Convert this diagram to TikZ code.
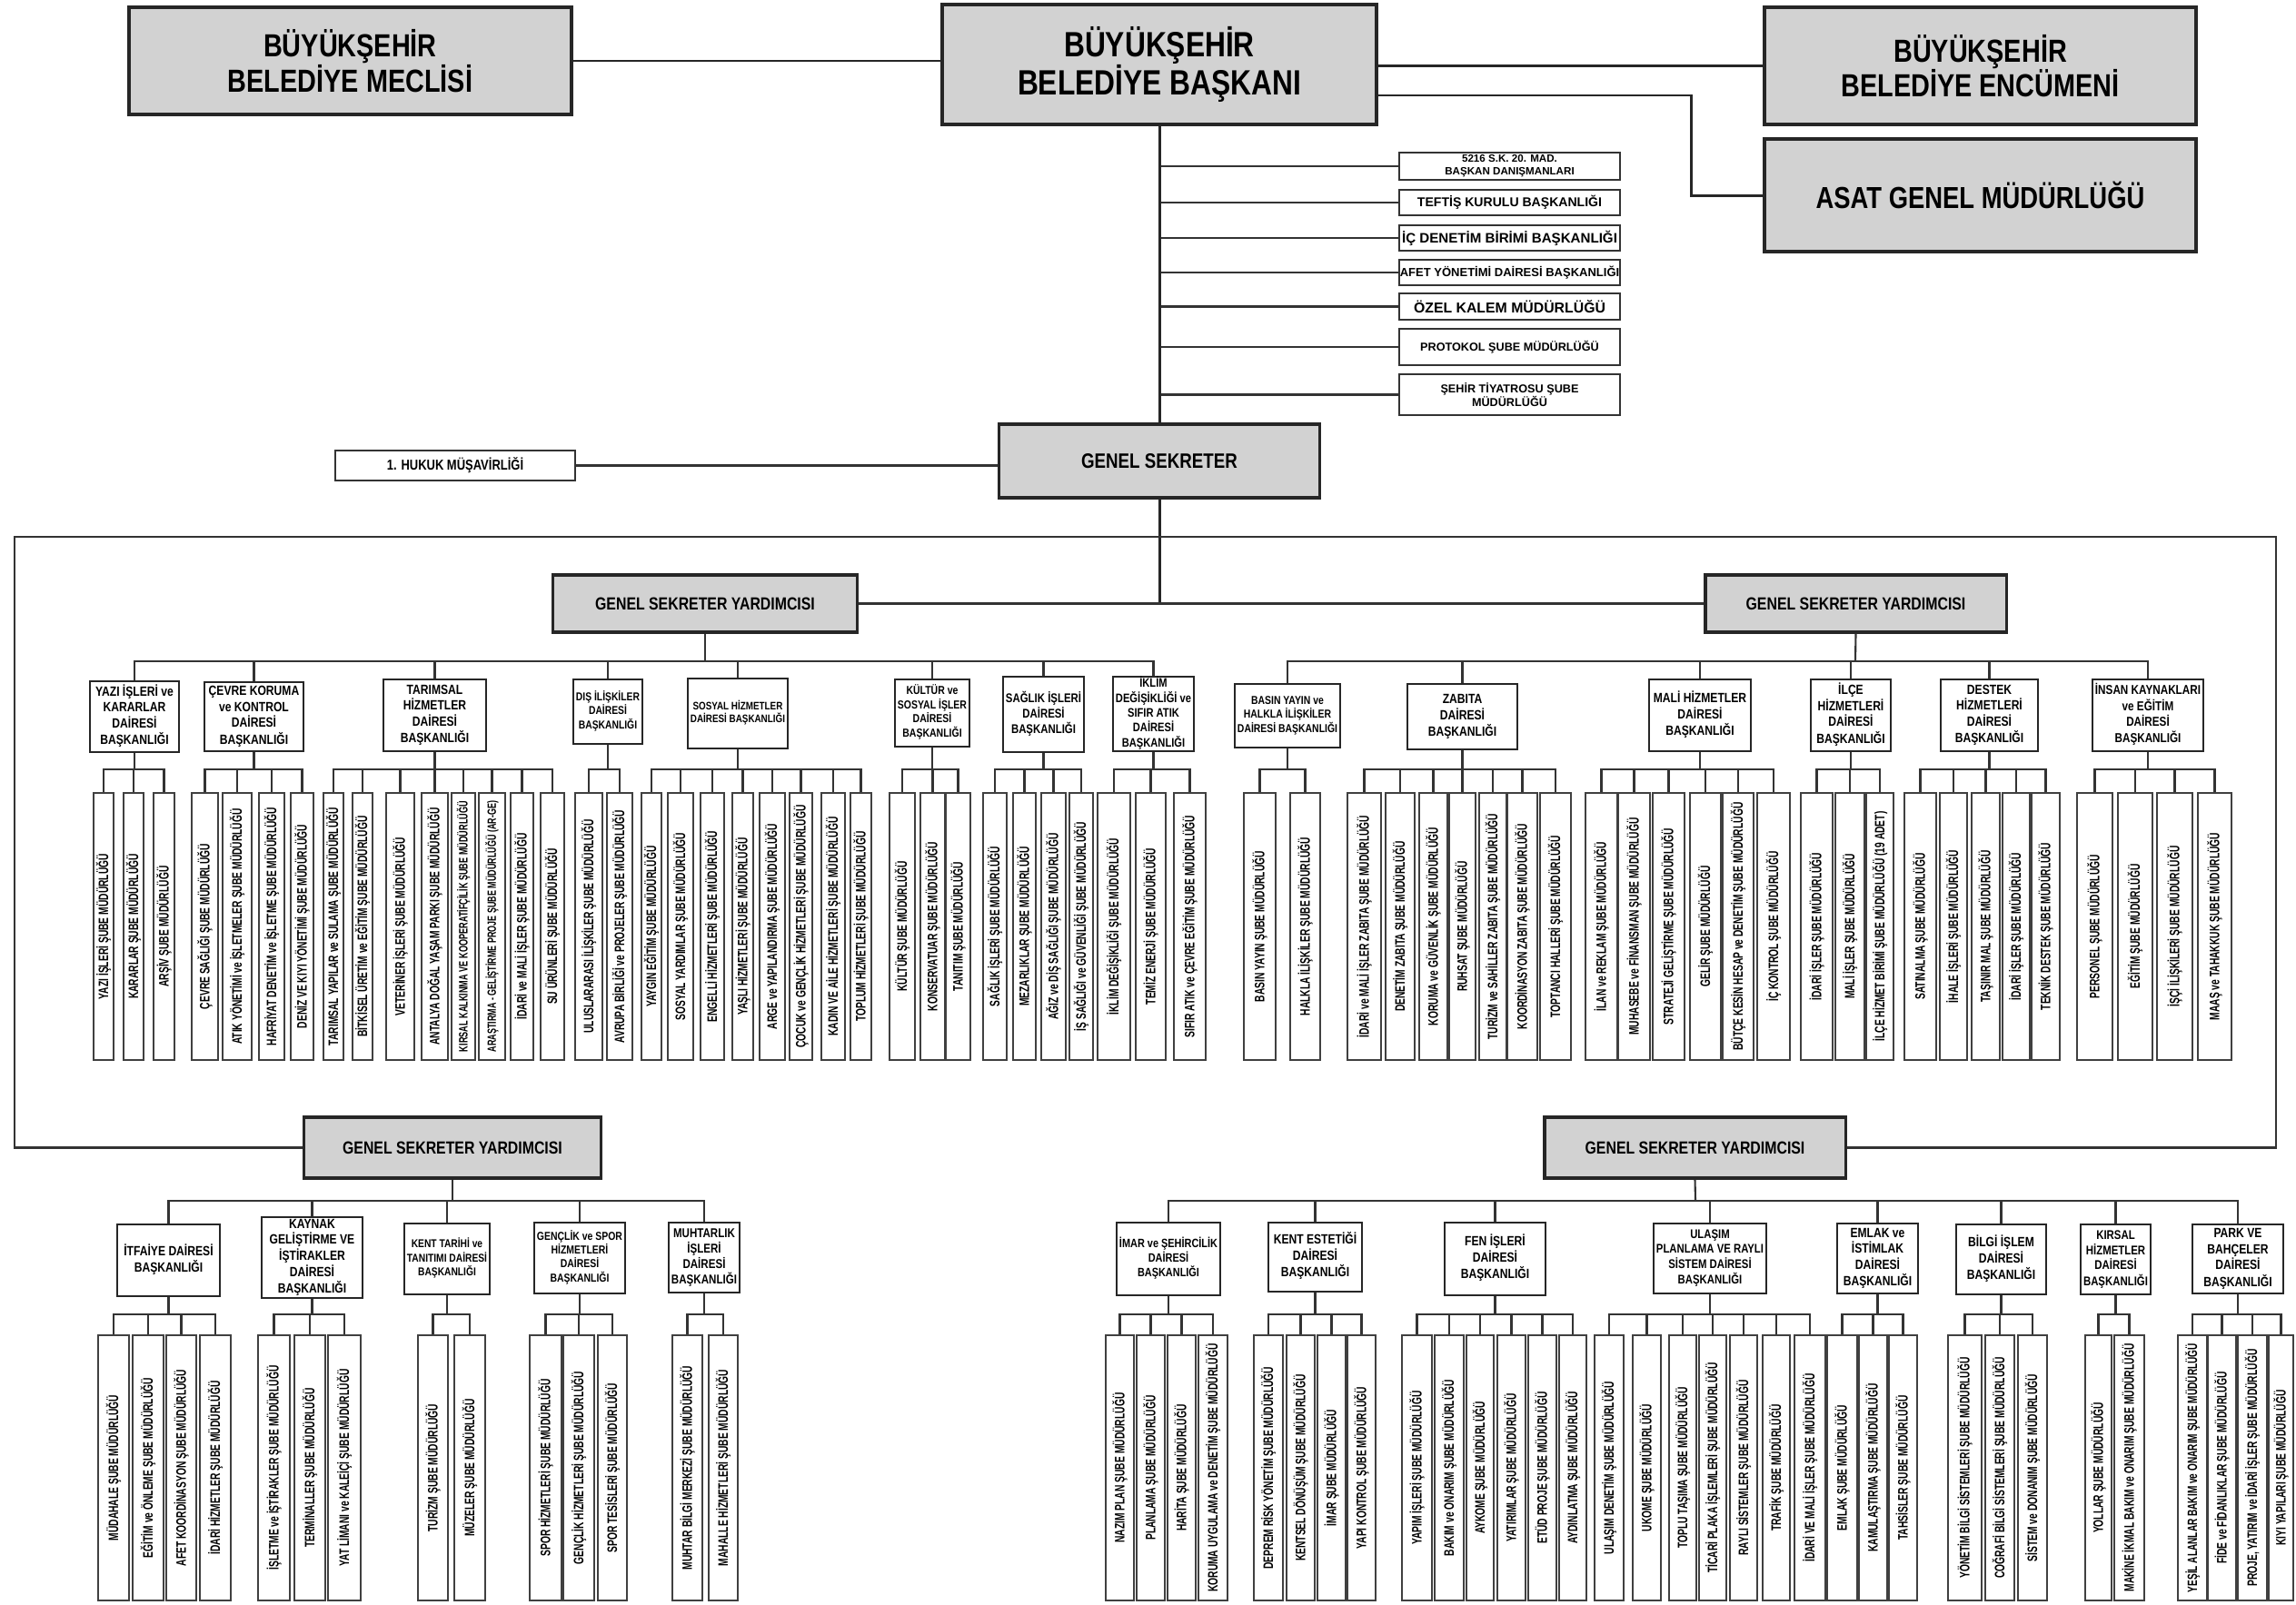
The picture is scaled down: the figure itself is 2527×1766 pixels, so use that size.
\documentclass[tikz,border=0pt]{standalone}
\usepackage{fontspec}
\usepackage{graphicx}
\setmainfont{Liberation Sans}
\newfontfamily\cnd[FakeStretch=0.82]{Liberation Sans}
\newfontfamily\cndk[FakeStretch=0.68]{Liberation Sans}
\definecolor{boxgray}{RGB}{210,210,210}
\newsavebox\fbx
\newcommand\fitw[2]{\sbox\fbx{#2}\ifdim\wd\fbx>#1\relax\resizebox{#1}{!}{\usebox\fbx}\else\usebox\fbx\fi}
\newcommand\ml[1]{\begin{tabular}{@{}c@{}}#1\end{tabular}}
% generic box: style, name, left, right, top, bottom, text  (pixel coordinates)
\newcommand\bx[7]{%
  \pgfmathsetmacro\bw{(#4-#3)*0.284528}%
  \pgfmathsetmacro\bh{(#6-#5)*0.284528}%
  \node[#1, minimum width=\bw pt, minimum height=\bh pt] (#2) at ({(#3+#4)/2},{(#5+#6)/2}) {#7};}
% department with its branch offices: name, left, right, top, bottom, header, list of left/right/text
\newcommand\dept[7]{%
  \pgfmathsetmacro\mw{(#3-#2-6)*0.284528}%
  \bx{dept}{#1}{#2}{#3}{#4}{#5}{\fitw{\mw pt}{\ml{#6}}}%
  \draw[conn] (\pb) -| (#1.north);
  \coordinate (#1-b) at ({(#2+#3)/2},\ky);
  \draw[conn] (#1.south) -- (#1-b);
  \foreach \xa/\xb/\txt [count=\i] in {#7} {%
    \pgfmathsetmacro\kw{(\xb-\xa)*0.284528}%
    \node[kid, minimum width=\kw pt, minimum height=\kh pt] (#1-\i) at ({(\xa+\xb)/2},{(\kt+\kb)/2}) {\rotatebox{90}{\fitw{\kl pt}{\txt}}};
    \draw[conn] (#1-b) -| (#1-\i.north);
  }}
\begin{document}
\begin{tikzpicture}[x=0.01cm,y=-0.01cm,
  topbox/.style={draw=black!85, line width=1pt, fill=boxgray, inner sep=0pt, align=center, font={\cnd\bfseries\fontsize{10}{11}\selectfont}},
  graybox/.style={draw=black!85, line width=0.9pt, fill=boxgray, inner sep=0pt, align=center, font={\cnd\bfseries\fontsize{5.5}{6.5}\selectfont}},
  sbox/.style={draw=black!80, line width=0.6pt, fill=white, inner sep=0pt, align=center, font={\bfseries\fontsize{4}{4.6}\selectfont}},
  dept/.style={draw=black!85, line width=0.7pt, fill=white, inner sep=0pt, font={\cnd\bfseries\fontsize{4.2}{4.9}\selectfont}},
  kid/.style={draw=black!75, line width=0.5pt, fill=white, inner sep=0pt, font={\cndk\bfseries\fontsize{4.3}{5}\selectfont}},
  conn/.style={draw=black!80, line width=0.6pt},
  mainconn/.style={draw=black!85, line width=0.85pt}]
\useasboundingbox (0,0) rectangle (2527,1766);
\fill[white] (0,0) rectangle (2527,1766);

% ---------- top level ----------
\bx{topbox}{meclis}{142}{629}{8}{126}{BÜYÜKŞEHİR\\BELEDİYE MECLİSİ}
\bx{topbox,font={\cnd\bfseries\fontsize{11}{12}\selectfont}}{baskan}{1037}{1515}{5}{137}{BÜYÜKŞEHİR\\BELEDİYE BAŞKANI}
\bx{topbox}{encumen}{1942}{2417}{8}{137}{BÜYÜKŞEHİR\\BELEDİYE ENCÜMENİ}
\bx{topbox,font={\cnd\bfseries\fontsize{9.5}{10.5}\selectfont}}{asat}{1942}{2417}{153}{277}{ASAT GENEL MÜDÜRLÜĞÜ}
\draw[mainconn] (meclis.east) -- (meclis.east -| baskan.west);
\draw[mainconn] (encumen.west -| baskan.east) -- (encumen.west);
\coordinate (asatknee) at (1861,105);
\draw[mainconn] (baskan.east |- asatknee) -- (asatknee) |- (asat.west);

% ---------- offices attached to the mayor ----------
\bx{sbox,font={\bfseries\fontsize{3.3}{3.9}\selectfont}}{sb1}{1540}{1783}{168}{198}{5216 S.K. 20. MAD.\\BAŞKAN DANIŞMANLARI}
\bx{sbox}{sb2}{1540}{1783}{209}{237}{TEFTİŞ KURULU BAŞKANLIĞI}
\bx{sbox,font={\bfseries\fontsize{4.3}{5}\selectfont}}{sb3}{1540}{1783}{248}{276}{İÇ DENETİM BİRİMİ BAŞKANLIĞI}
\bx{sbox,font={\bfseries\fontsize{3.7}{4.3}\selectfont}}{sb4}{1540}{1783}{286}{314}{AFET YÖNETİMİ DAİRESİ BAŞKANLIĞI}
\bx{sbox,font={\bfseries\fontsize{4.5}{5.2}\selectfont}}{sb5}{1540}{1783}{323}{352}{ÖZEL KALEM MÜDÜRLÜĞÜ}
\bx{sbox,font={\bfseries\fontsize{3.6}{4.2}\selectfont}}{sb6}{1540}{1783}{362}{402}{PROTOKOL ŞUBE MÜDÜRLÜĞÜ}
\bx{sbox,font={\bfseries\fontsize{3.6}{4.4}\selectfont}}{sb7}{1540}{1783}{412}{457}{ŞEHİR TİYATROSU ŞUBE\\MÜDÜRLÜĞÜ}
\foreach \s in {sb1,sb2,sb3,sb4,sb5,sb6,sb7} {\draw[conn] (\s.west -| baskan.south) -- (\s.west);}

% ---------- general secretary ----------
\bx{graybox,font={\cnd\bfseries\fontsize{6.5}{7.5}\selectfont}}{gs}{1100}{1452}{467}{548}{GENEL SEKRETER}
\bx{sbox,font={\cnd\bfseries\fontsize{4.5}{5}\selectfont}}{hukuk}{369}{633}{496}{529}{1. HUKUK MÜŞAVİRLİĞİ}
\draw[mainconn] (baskan.south) -- (gs.north);
\draw[conn] (hukuk.east) -- (hukuk.east -| gs.west);
\bx{graybox}{gsyL}{609}{943}{633}{696}{GENEL SEKRETER YARDIMCISI}
\bx{graybox}{gsyR}{1877}{2208}{633}{696}{GENEL SEKRETER YARDIMCISI}
\bx{graybox}{gsyLL}{335}{661}{1230}{1297}{GENEL SEKRETER YARDIMCISI}
\bx{graybox}{gsyLR}{1700}{2031}{1230}{1297}{GENEL SEKRETER YARDIMCISI}
\coordinate (gsyj) at (1276,664);
\draw[mainconn] (gs.south) -- (gsyj);
\draw[conn] (gsyL.east) -- (gsyR.west);
\coordinate (fTL) at (16,591);
\coordinate (fTR) at (2505,591);
\draw[conn] (gsyLL.west) -| (fTL) -- (fTR) |- (gsyLR.east);
\coordinate (gsyL-b) at (776,728);
\coordinate (gsyR-b) at (2042,728);
\coordinate (gsyLL-b) at (498,1322);
\coordinate (gsyLR-b) at (1866,1322);
\draw[conn] (gsyL.south) -- (gsyL-b);
\draw[conn] (gsyR.south) -- (gsyR-b);
\draw[conn] (gsyLL.south) -- (gsyLL-b);
\draw[conn] (gsyLR.south) -- (gsyLR-b);

% ---------- upper departments ----------
\def\kt{873}\def\kb{1167}\def\ky{847}
\pgfmathsetmacro\kh{(\kb-\kt)*0.284528}
\pgfmathsetmacro\kl{(\kb-\kt-18)*0.284528}
\def\pb{gsyL-b}
\dept{u1}{99}{197}{750}{828}{YAZI İŞLERİ ve\\KARARLAR\\DAİRESİ\\BAŞKANLIĞI}{103/125/YAZI İŞLERİ ŞUBE MÜDÜRLÜĞÜ, 136/158/KARARLAR  ŞUBE MÜDÜRLÜĞÜ, 169/192/ARŞİV ŞUBE MÜDÜRLÜĞÜ}
\dept{u2}{225}{334}{751}{827}{ÇEVRE KORUMA\\ve KONTROL\\DAİRESİ\\BAŞKANLIĞI}{211/240/ÇEVRE SAĞLIĞI ŞUBE MÜDÜRLÜĞÜ, 245/277/ATIK YÖNETİMİ ve İŞLETMELER  ŞUBE MÜDÜRLÜĞÜ, 285/313/HAFRİYAT DENETİM ve İŞLETME ŞUBE MÜDÜRLÜĞÜ, 320/345/DENİZ VE KIYI YÖNETİMİ ŞUBE MÜDÜRLÜĞÜ}
\dept{u3}{422}{535}{748}{827}{TARIMSAL\\HİZMETLER\\DAİRESİ\\BAŞKANLIĞI}{356/378/TARIMSAL YAPILAR ve SULAMA ŞUBE MÜDÜRLÜĞÜ, 388/410/BİTKİSEL ÜRETİM ve EĞİTİM ŞUBE MÜDÜRLÜĞÜ, 425/456/VETERİNER İŞLERİ ŞUBE MÜDÜRLÜĞÜ, 464/493/ANTALYA DOĞAL YAŞAM PARKI ŞUBE MÜDÜRLÜĞÜ, 497/523/KIRSAL KALKINMA VE KOOPERATİFÇİLİK ŞUBE MÜDÜRLÜĞÜ, 527/556/ARAŞTIRMA - GELİŞTİRME PROJE ŞUBE MÜDÜRLÜĞÜ (AR-GE), 562/587/İDARİ ve MALİ İŞLER ŞUBE MÜDÜRLÜĞÜ, 595/621/SU ÜRÜNLERİ ŞUBE MÜDÜRLÜĞÜ}
\dept{u4}{631}{707}{748}{819}{DIŞ İLİŞKİLER\\DAİRESİ\\BAŞKANLIĞI}{633/663/ULUSLARARASI İLİŞKİLER ŞUBE MÜDÜRLÜĞÜ, 668/696/AVRUPA BİRLİĞİ ve PROJELER ŞUBE MÜDÜRLÜĞÜ}
\dept{u5}{757}{867}{747}{824}{SOSYAL HİZMETLER\\DAİRESİ BAŞKANLIĞI}{706/728/YAYGIN EĞİTİM ŞUBE MÜDÜRLÜĞÜ, 735/763/SOSYAL YARDIMLAR ŞUBE MÜDÜRLÜĞÜ, 771/797/ENGELLİ HİZMETLERİ ŞUBE MÜDÜRLÜĞÜ, 806/829/YAŞLI HİZMETLERİ ŞUBE MÜDÜRLÜĞÜ, 836/864/ARGE ve YAPILANDIRMA ŞUBE MÜDÜRLÜĞÜ, 869/894/ÇOCUK ve GENÇLİK HİZMETLERİ ŞUBE MÜDÜRLÜĞÜ, 904/930/KADIN VE AİLE HİZMETLERİ ŞUBE MÜDÜRLÜĞÜ, 936/959/TOPLUM HİZMETLERİ ŞUBE MÜDÜRLÜĞÜ}
\dept{u6}{985}{1067}{748}{822}{KÜLTÜR ve\\SOSYAL İŞLER\\DAİRESİ\\BAŞKANLIĞI}{979/1007/KÜLTÜR ŞUBE MÜDÜRLÜĞÜ, 1013/1040/KONSERVATUAR ŞUBE MÜDÜRLÜĞÜ, 1041/1068/TANITIM ŞUBE MÜDÜRLÜĞÜ}
\dept{u7}{1104}{1193}{745}{828}{SAĞLIK İŞLERİ\\DAİRESİ\\BAŞKANLIĞI}{1082/1108/SAĞLIK İŞLERİ ŞUBE MÜDÜRLÜĞÜ, 1115/1140/MEZARLIKLAR ŞUBE MÜDÜRLÜĞÜ, 1146/1173/AĞIZ ve DİŞ SAĞLIĞI ŞUBE MÜDÜRLÜĞÜ, 1177/1203/İŞ SAĞLIĞI ve GÜVENLİĞİ ŞUBE MÜDÜRLÜĞÜ}
\dept{u8}{1225}{1314}{747}{825}{İKLİM\\DEĞİŞİKLİĞİ ve\\SIFIR ATIK\\DAİRESİ\\BAŞKANLIĞI}{1208/1244/İKLİM DEĞİŞİKLİĞİ ŞUBE MÜDÜRLÜĞÜ, 1250/1283/TEMİZ ENERJİ ŞUBE MÜDÜRLÜĞÜ, 1292/1327/SIFIR ATIK ve ÇEVRE EĞİTİM ŞUBE MÜDÜRLÜĞÜ}

\def\pb{gsyR-b}
\dept{r1}{1359}{1475}{753}{823}{BASIN YAYIN ve\\HALKLA İLİŞKİLER\\DAİRESİ BAŞKANLIĞI}{1369/1404/BASIN YAYIN ŞUBE MÜDÜRLÜĞÜ, 1420/1453/HALKLA İLİŞKİLER ŞUBE MÜDÜRLÜĞÜ}
\dept{r2}{1549}{1670}{753}{825}{ZABITA\\DAİRESİ\\BAŞKANLIĞI}{1483/1520/İDARİ ve MALİ İŞLER ZABITA ŞUBE MÜDÜRLÜĞÜ, 1525/1557/DENETİM ZABITA ŞUBE MÜDÜRLÜĞÜ, 1562/1593/KORUMA ve GÜVENLİK ŞUBE MÜDÜRLÜĞÜ, 1595/1624/RUHSAT ŞUBE MÜDÜRLÜĞÜ, 1628/1658/TURİZM ve SAHİLLER ZABITA ŞUBE MÜDÜRLÜĞÜ, 1659/1692/KOORDİNASYON ZABITA  ŞUBE MÜDÜRLÜĞÜ, 1695/1729/TOPTANCI HALLERİ ŞUBE MÜDÜRLÜĞÜ}
\dept{r3}{1815}{1927}{748}{827}{MALİ HİZMETLER\\DAİRESİ\\BAŞKANLIĞI}{1745/1780/İLAN ve REKLAM ŞUBE MÜDÜRLÜĞÜ, 1781/1816/MUHASEBE ve FİNANSMAN ŞUBE MÜDÜRLÜĞÜ, 1819/1854/STRATEJİ GELİŞTİRME ŞUBE MÜDÜRLÜĞÜ, 1860/1894/GELİR ŞUBE MÜDÜRLÜĞÜ, 1896/1930/BÜTÇE KESİN HESAP ve DENETİM ŞUBE MÜDÜRLÜĞÜ, 1934/1970/İÇ KONTROL ŞUBE MÜDÜRLÜĞÜ}
\dept{r4}{1993}{2081}{748}{827}{İLÇE\\HİZMETLERİ\\DAİRESİ\\BAŞKANLIĞI}{1982/2017/İDARİ İŞLER ŞUBE MÜDÜRLÜĞÜ, 2020/2052/MALİ İŞLER ŞUBE MÜDÜRLÜĞÜ, 2054/2084/İLÇE HİZMET BİRİMİ ŞUBE MÜDÜRLÜĞÜ (19 ADET)}
\dept{r5}{2136}{2243}{748}{827}{DESTEK\\HİZMETLERİ\\DAİRESİ\\BAŞKANLIĞI}{2096/2131/SATINALMA ŞUBE MÜDÜRLÜĞÜ, 2135/2165/İHALE İŞLERİ ŞUBE MÜDÜRLÜĞÜ, 2170/2201/TAŞINIR MAL ŞUBE MÜDÜRLÜĞÜ, 2204/2234/İDARİ İŞLER ŞUBE MÜDÜRLÜĞÜ, 2236/2267/TEKNİK DESTEK ŞUBE MÜDÜRLÜĞÜ}
\dept{r6}{2303}{2425}{748}{827}{İNSAN KAYNAKLARI\\ve EĞİTİM\\DAİRESİ\\BAŞKANLIĞI}{2286/2325/PERSONEL ŞUBE MÜDÜRLÜĞÜ, 2331/2369/EĞİTİM ŞUBE MÜDÜRLÜĞÜ, 2374/2413/İŞÇİ İLİŞKİLERİ ŞUBE MÜDÜRLÜĞÜ, 2419/2456/MAAŞ ve TAHAKKUK ŞUBE MÜDÜRLÜĞÜ}

% ---------- lower departments ----------
\def\kt{1470}\def\kb{1762}\def\ky{1447}
\pgfmathsetmacro\kh{(\kb-\kt)*0.284528}
\pgfmathsetmacro\kl{(\kb-\kt-18)*0.284528}
\def\pb{gsyLL-b}
\dept{l1}{129}{242}{1348}{1427}{İTFAİYE DAİRESİ\\BAŞKANLIĞI}{108/142/MÜDAHALE ŞUBE MÜDÜRLÜĞÜ, 146/180/EĞİTİM ve ÖNLEME ŞUBE MÜDÜRLÜĞÜ, 183/216/AFET KOORDİNASYON ŞUBE MÜDÜRLÜĞÜ, 220/254/İDARİ HİZMETLER ŞUBE MÜDÜRLÜĞÜ}
\dept{l2}{288}{399}{1347}{1422}{KAYNAK\\GELİŞTİRME VE\\İŞTİRAKLER\\DAİRESİ\\BAŞKANLIĞI}{284/319/İŞLETME ve İŞTİRAKLER ŞUBE MÜDÜRLÜĞÜ, 324/358/TERMİNALLER ŞUBE MÜDÜRLÜĞÜ, 361/397/YAT LİMANI ve KALEİÇİ ŞUBE MÜDÜRLÜĞÜ}
\dept{l3}{445}{539}{1347}{1425}{KENT TARİHİ ve\\TANITIMI DAİRESİ\\BAŞKANLIĞI}{460/493/TURİZM ŞUBE MÜDÜRLÜĞÜ, 500/534/MÜZELER ŞUBE MÜDÜRLÜĞÜ}
\dept{l4}{588}{688}{1346}{1424}{GENÇLİK ve SPOR\\HİZMETLERİ\\DAİRESİ\\BAŞKANLIĞI}{583/618/SPOR HİZMETLERİ ŞUBE MÜDÜRLÜĞÜ, 620/654/GENÇLİK HİZMETLERİ ŞUBE MÜDÜRLÜĞÜ, 658/690/SPOR TESİSLERİ ŞUBE MÜDÜRLÜĞÜ}
\dept{l5}{736}{814}{1346}{1423}{MUHTARLIK\\İŞLERİ\\DAİRESİ\\BAŞKANLIĞI}{740/773/MUHTAR BİLGİ MERKEZİ ŞUBE MÜDÜRLÜĞÜ, 780/812/MAHALLE HİZMETLERİ ŞUBE MÜDÜRLÜĞÜ}

\def\pb{gsyLR-b}
\dept{m1}{1229}{1343}{1346}{1426}{İMAR ve ŞEHİRCİLİK\\DAİRESİ\\BAŞKANLIĞI}{1217/1248/NAZIM PLAN ŞUBE MÜDÜRLÜĞÜ, 1251/1282/PLANLAMA ŞUBE MÜDÜRLÜĞÜ, 1285/1316/HARİTA ŞUBE MÜDÜRLÜĞÜ, 1319/1351/KORUMA UYGULAMA ve DENETİM ŞUBE MÜDÜRLÜĞÜ}
\dept{m2}{1396}{1499}{1346}{1422}{KENT ESTETİĞİ\\DAİRESİ\\BAŞKANLIĞI}{1380/1412/DEPREM RİSK YÖNETİM ŞUBE MÜDÜRLÜĞÜ, 1416/1447/KENTSEL DÖNÜŞÜM ŞUBE MÜDÜRLÜĞÜ, 1450/1481/İMAR ŞUBE MÜDÜRLÜĞÜ, 1483/1514/YAPI KONTROL ŞUBE MÜDÜRLÜĞÜ}
\dept{m3}{1590}{1701}{1346}{1426}{FEN İŞLERİ\\DAİRESİ\\BAŞKANLIĞI}{1543/1576/YAPIM İŞLERİ ŞUBE MÜDÜRLÜĞÜ, 1579/1611/BAKIM ve ONARIM ŞUBE MÜDÜRLÜĞÜ, 1614/1644/AYKOME ŞUBE MÜDÜRLÜĞÜ, 1648/1679/YATIRIMLAR ŞUBE MÜDÜRLÜĞÜ, 1682/1713/ETÜD PROJE  ŞUBE MÜDÜRLÜĞÜ, 1716/1746/AYDINLATMA ŞUBE MÜDÜRLÜĞÜ}
\dept{m4}{1820}{1944}{1347}{1424}{ULAŞIM\\PLANLAMA VE RAYLI\\SİSTEM DAİRESİ\\BAŞKANLIĞI}{1755/1787/ULAŞIM DENETİM ŞUBE MÜDÜRLÜĞÜ, 1797/1828/UKOME ŞUBE MÜDÜRLÜĞÜ, 1837/1867/TOPLU TAŞIMA ŞUBE MÜDÜRLÜĞÜ, 1870/1900/TİCARİ PLAKA İŞLEMLERİ ŞUBE MÜDÜRLÜĞÜ, 1904/1934/RAYLI SİSTEMLER ŞUBE MÜDÜRLÜĞÜ, 1940/1970/TRAFİK ŞUBE MÜDÜRLÜĞÜ, 1975/2009/İDARİ VE MALİ İŞLER ŞUBE MÜDÜRLÜĞÜ}
\dept{m5}{2022}{2111}{1347}{1424}{EMLAK ve\\İSTİMLAK\\DAİRESİ\\BAŞKANLIĞI}{2011/2044/EMLAK ŞUBE MÜDÜRLÜĞÜ, 2046/2077/KAMULAŞTIRMA ŞUBE MÜDÜRLÜĞÜ, 2079/2110/TAHSİSLER ŞUBE MÜDÜRLÜĞÜ}
\dept{m6}{2153}{2252}{1348}{1425}{BİLGİ İŞLEM\\DAİRESİ\\BAŞKANLIĞI}{2144/2181/YÖNETİM BİLGİ SİSTEMLERİ ŞUBE MÜDÜRLÜĞÜ, 2185/2217/COĞRAFİ BİLGİ SİSTEMLERİ ŞUBE MÜDÜRLÜĞÜ, 2221/2253/SİSTEM ve DONANIM ŞUBE MÜDÜRLÜĞÜ}
\dept{m7}{2290}{2367}{1348}{1425}{KIRSAL\\HİZMETLER\\DAİRESİ\\BAŞKANLIĞI}{2295/2324/YOLLAR ŞUBE MÜDÜRLÜĞÜ, 2327/2360/MAKİNE İKMAL BAKIM ve ONARIM ŞUBE MÜDÜRLÜĞÜ}
\dept{m8}{2413}{2513}{1348}{1424}{PARK VE\\BAHÇELER\\DAİRESİ\\BAŞKANLIĞI}{2397/2429/YEŞİL ALANLAR BAKIM ve ONARIM ŞUBE MÜDÜRLÜĞÜ, 2430/2461/FİDE ve FİDANLIKLAR ŞUBE MÜDÜRLÜĞÜ, 2463/2495/{PROJE, YATIRIM ve İDARİ İŞLER ŞUBE MÜDÜRLÜĞÜ}, 2497/2524/KIYI YAPILARI ŞUBE MÜDÜRLÜĞÜ}
\end{tikzpicture}
\end{document}
